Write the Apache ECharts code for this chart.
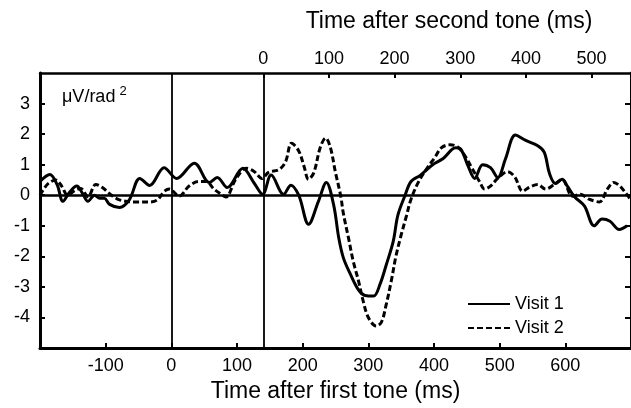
<!DOCTYPE html>
<html>
<head>
<meta charset="utf-8">
<script src="https://cdn.jsdelivr.net/npm/echarts@6/dist/echarts.min.js"></script>
<style>
  html, body { margin: 0; padding: 0; background: #fff; }
  #chart { width: 631px; height: 408px; }
</style>
</head>
<body>
<div id="chart"></div>
<script>
// ------------------------------ data ---------------------------
// time after first tone (ms)
const timeVisit1 = [-200, -185, -174, -165, -155, -144, -135, -127, -117, -109, -102, -94, -79, -64, -48, -33, -11, 8, 35, 58, 70, 85, 109, 126, 139, 152, 171, 182, 194, 209, 224, 236, 247, 255, 262, 273, 285, 295, 308, 318, 327, 338, 345, 356, 365, 379, 398, 414, 433, 441, 452, 462, 474, 486, 497, 509, 524, 539, 558, 568, 576, 585, 595, 603, 614, 629, 644, 656, 668, 682, 694];
const visit1 = [0.45, 0.68, 0.35, -0.2, 0.1, 0.3, 0.05, -0.2, 0.0, -0.1, -0.1, -0.3, -0.4, -0.15, 0.55, 0.32, 0.9, 0.55, 1.05, 0.42, 0.58, 0.25, 0.88, 0.4, 0.03, 0.66, 0.03, 0.33, 0.0, -0.95, -0.2, 0.42, -0.3, -1.4, -2.05, -2.6, -3.1, -3.28, -3.3, -2.9, -2.3, -1.5, -0.65, 0.0, 0.45, 0.65, 1.0, 1.2, 1.55, 1.5, 0.95, 0.55, 1.0, 0.9, 0.58, 1.2, 1.97, 1.8, 1.62, 1.4, 0.7, 0.38, 0.52, 0.3, -0.05, -0.35, -1.0, -0.78, -0.85, -1.12, -1.0];

const timeVisit2 = [-200, -189, -176, -167, -158, -147, -138, -127, -115, -105, -94, -79, -56, -33, -21, -11, -3, 12, 27, 42, 53, 65, 76, 83, 98, 114, 126, 138, 148, 164, 174, 183, 194, 202, 209, 217, 227, 235, 242, 250, 258, 262, 270, 277, 285, 292, 300, 312, 320, 327, 335, 342, 350, 358, 365, 376, 388, 402, 411, 424, 436, 448, 459, 470, 477, 486, 497, 512, 523, 535, 545, 558, 570, 583, 595, 611, 623, 636, 652, 664, 674, 683, 691, 698];
const visit2 = [0.0, 0.35, 0.5, 0.3, 0.0, 0.15, 0.22, -0.05, 0.35, 0.25, 0.05, -0.15, -0.22, -0.22, -0.15, 0.12, 0.2, -0.03, 0.3, 0.45, 0.45, 0.2, 0.03, -0.06, 0.52, 0.88, 0.78, 0.55, 0.75, 0.84, 1.1, 1.7, 1.45, 0.95, 0.52, 0.74, 1.58, 1.87, 1.58, 0.74, -0.03, -0.6, -1.42, -2.16, -2.8, -3.45, -4.0, -4.28, -4.15, -3.6, -2.8, -2.0, -1.3, -0.68, -0.13, 0.42, 0.84, 1.26, 1.55, 1.65, 1.58, 1.26, 0.84, 0.42, 0.2, 0.3, 0.55, 0.77, 0.6, 0.13, 0.26, 0.35, 0.2, 0.35, 0.52, -0.03, 0.03, -0.13, -0.22, 0.2, 0.42, 0.3, 0.1, -0.1];

const firstToneTicks = [-100, 0, 100, 200, 300, 400, 500, 600];
const secondToneTicks = [0, 100, 200, 300, 400, 500];
const yTicks = [-4, -3, -2, -1, 0, 1, 2, 3];
const secondToneAt = 140; // ms after first tone

// ------------------------------ chart ---------------------------
(function () {
  const myChart = echarts.init(document.getElementById('chart'));
  const font = 'Liberation Sans, Arial, sans-serif';

  const pairs = (xs, ys) => xs.map((x, i) => [x, ys[i]]);

  const option = {
    animation: false,
    backgroundColor: '#fff',
    textStyle: { fontFamily: font, color: '#000' },
    grid: { left: 40, top: 73, width: 594, height: 278 },
    legend: {
      data: ['Visit 1', 'Visit 2'],
      orient: 'vertical',
      left: 462,
      top: 290,
      itemWidth: 42,
      itemHeight: 14,
      itemGap: 6,
      itemStyle: { opacity: 0 },
      textStyle: { fontSize: 18, color: '#000', fontFamily: font }
    },
    xAxis: [
      {
        type: 'value',
        position: 'bottom',
        min: -200,
        max: 700,
        interval: 100,
        name: 'Time after first tone (ms)',
        nameLocation: 'middle',
        nameGap: 32,
        nameTextStyle: { fontSize: 23, color: '#000', fontFamily: font },
        axisLine: { onZero: false, lineStyle: { color: '#000', width: 3 } },
        axisTick: { inside: true, length: 5, customValues: firstToneTicks, lineStyle: { color: '#000', width: 2 } },
        axisLabel: { customValues: firstToneTicks, fontSize: 18, color: '#000', margin: 9 },
        splitLine: { show: false }
      },
      {
        type: 'value',
        position: 'top',
        min: -200 - secondToneAt,
        max: 700 - secondToneAt,
        axisLine: { onZero: false, lineStyle: { color: '#000', width: 2.5 } },
        axisTick: { inside: true, length: 5, customValues: secondToneTicks, lineStyle: { color: '#000', width: 2 } },
        axisLabel: { customValues: secondToneTicks, fontSize: 18, color: '#000', margin: 5 },
        splitLine: { show: false }
      }
    ],
    yAxis: [
      {
        type: 'value',
        position: 'left',
        min: -5,
        max: 4,
        interval: 1,
        axisLine: { show: true, onZero: false, lineStyle: { color: '#000', width: 3 } },
        axisTick: { show: true, inside: true, length: 5, customValues: yTicks, lineStyle: { color: '#000', width: 2 } },
        axisLabel: { customValues: yTicks, fontSize: 18, color: '#000', margin: 10 },
        splitLine: { show: false }
      },
      {
        type: 'value',
        position: 'right',
        min: -5,
        max: 4,
        interval: 1,
        axisLine: { show: true, onZero: false, lineStyle: { color: '#000', width: 3 } },
        axisTick: { show: true, inside: true, length: 6, customValues: yTicks, lineStyle: { color: '#000', width: 2 } },
        axisLabel: { show: false },
        splitLine: { show: false }
      }
    ],
    graphic: [
      {
        type: 'text',
        x: 449,
        y: 22,
        style: {
          text: 'Time after second tone (ms)',
          fontSize: 23,
          fontFamily: font,
          fill: '#000',
          align: 'center',
          verticalAlign: 'middle'
        }
      },
      {
        type: 'text',
        x: 62,
        y: 97,
        style: {
          text: 'μV/rad{s|2}',
          fontSize: 18,
          fontFamily: font,
          fill: '#000',
          verticalAlign: 'middle',
          rich: { s: { fontSize: 13, fontFamily: font, verticalAlign: 'top', padding: [0, 0, 12, 4] } }
        }
      }
    ],
    series: [
      {
        name: 'Visit 1',
        type: 'line',
        data: pairs(timeVisit1, visit1),
        smooth: 0.35,
        symbol: 'none',
        z: 3,
        lineStyle: { color: '#000', width: 3 },
        itemStyle: { color: '#000' },
        markLine: {
          silent: true,
          symbol: ['none', 'none'],
          label: { show: false },
          emphasis: { disabled: true },
          data: [
            { xAxis: 0, lineStyle: { color: '#000', width: 1.8, type: 'solid' } },
            { xAxis: secondToneAt, lineStyle: { color: '#000', width: 1.8, type: 'solid' } },
            { yAxis: 0, lineStyle: { color: '#000', width: 2.5, type: 'solid' } }
          ]
        }
      },
      {
        name: 'Visit 2',
        type: 'line',
        data: pairs(timeVisit2, visit2),
        smooth: 0.35,
        symbol: 'none',
        z: 3,
        lineStyle: { color: '#000', width: 3, type: [6, 3] },
        itemStyle: { color: '#000' }
      }
    ]
  };

  myChart.setOption(option);
})();
</script>
</body>
</html>
